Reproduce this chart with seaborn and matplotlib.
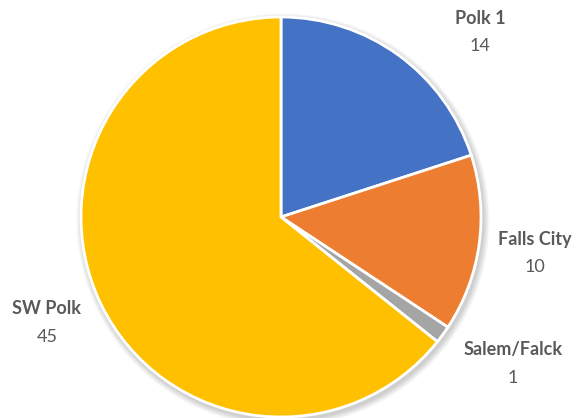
import numpy as np
import matplotlib
matplotlib.use("Agg")
import matplotlib.pyplot as plt
import seaborn as sns

# данные
categories = ["Polk 1", "Falls City", "Salem/Falck", "SW Polk"]
values = [14, 10, 1, 45]
colors = ["#4472C4", "#ED7D31", "#A5A5A5", "#FFC000"]

sns.set_style("white")
plt.rcParams['font.family'] = ['Lato', 'DejaVu Sans']

W, H = 580, 418
fig = plt.figure(figsize=(W / 100, H / 100), dpi=100)
ax = fig.add_axes([0, 0, 1, 1])

cx, cy, r = 281, H - 217, 200

# мягкая тень под кругом
for i in range(8):
    ax.add_patch(plt.Circle((cx + 2, cy - 3), r + 1 + i * 0.8,
                            color="black", alpha=0.025, lw=0, zorder=0))

wedges, _ = ax.pie(values, colors=colors, startangle=90, counterclock=False,
                   center=(cx, cy), radius=r,
                   wedgeprops=dict(edgecolor="white", linewidth=2))
for w in wedges:
    w.set_zorder(2)

# pie сбрасывает пределы осей - выставляем заново
ax.set_xlim(0, W)
ax.set_ylim(0, H)
ax.set_aspect("equal")
ax.axis("off")

# подписи (положение в пикселях картинки)
label_pos = [(480, 31), (535, 252), (513, 363), (47, 322)]
for name, val, (lx, ly) in zip(categories, values, label_pos):
    ax.text(lx, H - ly + 13, name, ha="center", va="center",
            fontsize=13, fontweight="bold", color="#595959")
    ax.text(lx, H - ly - 15, str(val), ha="center", va="center",
            fontsize=13, color="#595959")

fig.savefig("out.png", dpi=100, facecolor="white")
